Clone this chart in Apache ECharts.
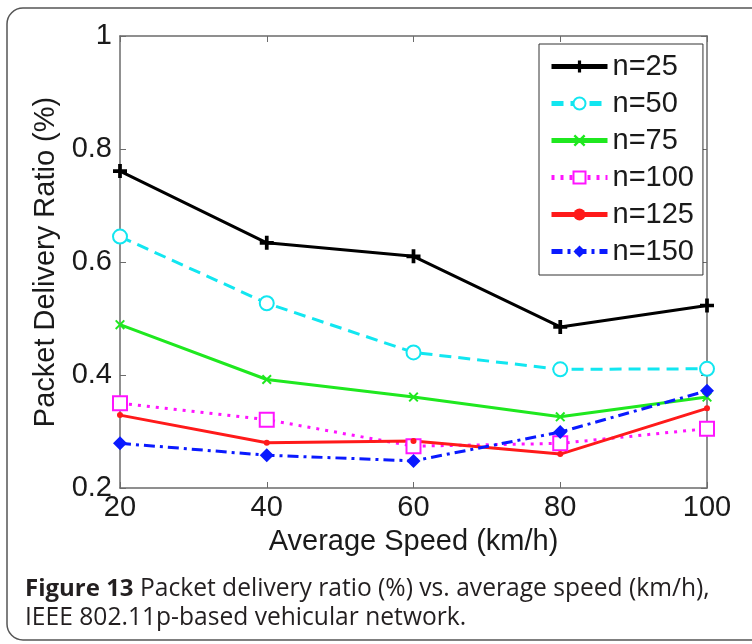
<!DOCTYPE html>
<html>
<head>
<meta charset="utf-8">
<script src="https://cdn.jsdelivr.net/npm/echarts@6/dist/echarts.min.js"></script>
<style>
  html, body { margin: 0; padding: 0; background: #fff; }
  #chart { width: 752px; height: 644px; }
</style>
</head>
<body>
<div id="chart"></div>
<script>
// speeds (km/h)
var speeds = [20, 40, 60, 80, 100]
// packet delivery ratio per node count
var n25 = [0.761, 0.634, 0.610, 0.485, 0.523]
var n50 = [0.645, 0.527, 0.440, 0.410, 0.411]
var n75 = [0.489, 0.392, 0.361, 0.326, 0.361]
var n100 = [0.350, 0.321, 0.274, 0.279, 0.305]
var n125 = [0.329, 0.280, 0.283, 0.260, 0.341]
var n150 = [0.279, 0.258, 0.248, 0.299, 0.372]

function pairs(vals) {
  return speeds.map(function (s, i) { return [s, vals[i]] })
}

var plusPath = 'path://M-1.6 -6 H1.6 V-1.6 H6 V1.6 H1.6 V6 H-1.6 V1.6 H-6 V-1.6 H-1.6 Z'
var xPath = 'path://M-5 -3.6 L-3.6 -5 L0 -1.4 L3.6 -5 L5 -3.6 L1.4 0 L5 3.6 L3.6 5 L0 1.4 L-3.6 5 L-5 3.6 L-1.4 0 Z'
var diamondPath = 'path://M0 -6 L6 0 L0 6 L-6 0 Z'

var axisColor = '#6b6b6b'
var labelFont = { fontFamily: 'Liberation Sans, Arial, sans-serif', fontSize: 29, color: '#1a1a1a' }

var chart = echarts.init(document.getElementById('chart'))

var option = {
  animation: false,
  backgroundColor: '#fff',
  grid: { left: 120, right: 45, top: 36, bottom: 156 },
  legend: {
    orient: 'vertical',
    left: 539,
    top: 44,
    padding: [8, 9, 9, 10],
    itemGap: 8,
    itemWidth: 56,
    itemHeight: 15,
    borderColor: '#333',
    borderWidth: 1,
    backgroundColor: '#fff',
    lineStyle: { width: 5 },
    textStyle: {
      fontFamily: 'Liberation Sans, Arial, sans-serif',
      fontSize: 29,
      lineHeight: 29,
      color: '#1a1a1a'
    },
    data: ['n=25', 'n=50', 'n=75', 'n=100', 'n=125', 'n=150']
  },
  xAxis: [
    {
      type: 'value',
      min: 20,
      max: 100,
      interval: 20,
      name: 'Average Speed (km/h)',
      nameLocation: 'middle',
      nameGap: 39,
      nameTextStyle: labelFont,
      axisLine: { lineStyle: { color: axisColor, width: 1.5 } },
      axisTick: { inside: true, length: 6, lineStyle: { color: axisColor } },
      axisLabel: Object.assign({ margin: 5 }, labelFont),
      splitLine: { show: false }
    },
    {
      type: 'value',
      position: 'top',
      min: 20,
      max: 100,
      interval: 20,
      axisLine: { lineStyle: { color: axisColor, width: 1.5 } },
      axisTick: { inside: true, length: 6, lineStyle: { color: axisColor } },
      axisLabel: { show: false },
      splitLine: { show: false }
    }
  ],
  yAxis: [
    {
      type: 'value',
      min: 0.2,
      max: 1,
      interval: 0.2,
      name: 'Packet Delivery Ratio (%)',
      nameLocation: 'middle',
      nameGap: 48,
      nameTextStyle: labelFont,
      axisLine: { show: true, lineStyle: { color: axisColor, width: 1.5 } },
      axisTick: { show: true, inside: true, length: 6, lineStyle: { color: axisColor } },
      axisLabel: Object.assign({ margin: 8 }, labelFont),
      splitLine: { show: false }
    },
    {
      type: 'value',
      position: 'right',
      min: 0.2,
      max: 1,
      interval: 0.2,
      axisLine: { show: true, lineStyle: { color: axisColor, width: 1.5 } },
      axisTick: { show: true, inside: true, length: 6, lineStyle: { color: axisColor } },
      axisLabel: { show: false },
      splitLine: { show: false }
    }
  ],
  series: [
    {
      name: 'n=25', type: 'line', data: pairs(n25),
      symbol: plusPath, symbolSize: 14,
      lineStyle: { color: '#000', width: 3 },
      itemStyle: { color: '#000' }
    },
    {
      name: 'n=50', type: 'line', data: pairs(n50),
      symbol: 'emptyCircle', symbolSize: 14,
      lineStyle: { color: '#12e6f0', width: 3, type: [12, 7] },
      itemStyle: { color: '#12e6f0', borderWidth: 3 }
    },
    {
      name: 'n=75', type: 'line', data: pairs(n75),
      symbol: xPath, symbolSize: 10,
      lineStyle: { color: '#1fe81f', width: 3 },
      itemStyle: { color: '#1fe81f' }
    },
    {
      name: 'n=100', type: 'line', data: pairs(n100),
      symbol: 'emptyRect', symbolSize: 14,
      lineStyle: { color: '#ff14ff', width: 3, type: [3, 6] },
      itemStyle: { color: '#ff14ff', borderWidth: 5 }
    },
    {
      name: 'n=125', type: 'line', data: pairs(n125),
      symbol: 'circle', symbolSize: 6,
      lineStyle: { color: '#ff1a1a', width: 3 },
      itemStyle: { color: '#ff1a1a' }
    },
    {
      name: 'n=150', type: 'line', data: pairs(n150),
      symbol: diamondPath, symbolSize: 14,
      lineStyle: { color: '#0a1aff', width: 3, type: [11, 5, 3, 5] },
      itemStyle: { color: '#0a1aff' }
    }
  ],
  graphic: [
    {
      type: 'rect',
      shape: { x: 7, y: 8, width: 800, height: 632, r: 16 },
      style: { fill: 'none', stroke: '#555', lineWidth: 1.5 },
      z: -1
    },
    {
      type: 'text',
      left: 25,
      top: 575,
      style: {
        text: '{b|Figure 13} Packet delivery ratio (%) vs. average speed (km/h),\nIEEE 802.11p-based vehicular network.',
        font: '24.6px "Open Sans", sans-serif',
        fill: '#231f20',
        lineHeight: 28.5,
        rich: {
          b: { fontWeight: 'bold', fontSize: 24, fontFamily: 'Open Sans', fill: '#231f20', lineHeight: 28.5 }
        }
      }
    }
  ]
}

chart.setOption(option)
window.onresize = function () {
  chart.resize()
}
</script>
</body>
</html>
